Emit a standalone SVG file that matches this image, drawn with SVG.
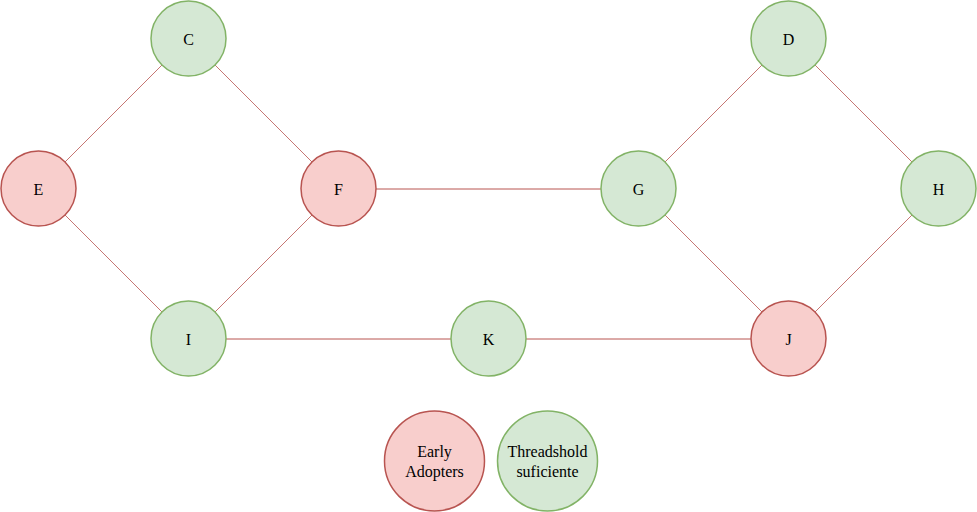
<svg xmlns="http://www.w3.org/2000/svg" width="977" height="512" viewBox="0 0 977 512">
<style>
.red{fill:#f8cecc;stroke:#b85450;stroke-width:1.5}
.green{fill:#d5e8d4;stroke:#82b366;stroke-width:1.5}
.edge{stroke:#b85450;stroke-width:1;fill:none}
.diag{stroke-opacity:0.8}
text{font-family:"Liberation Serif","Times New Roman",serif;font-size:16px;fill:#000;text-anchor:middle;dominant-baseline:central}
</style>
<rect width="977" height="512" fill="#fff"/>
<g id="connectors">
<line class="edge diag" x1="65" y1="162" x2="162" y2="65"/>
<line class="edge diag" x1="215" y1="65" x2="312" y2="162"/>
<line class="edge diag" x1="65" y1="215" x2="162" y2="312"/>
<line class="edge diag" x1="312" y1="215" x2="215" y2="312"/>
<line class="edge" x1="376" y1="189" x2="601" y2="189"/>
<line class="edge diag" x1="665" y1="162" x2="762" y2="65"/>
<line class="edge diag" x1="815" y1="65" x2="912" y2="162"/>
<line class="edge diag" x1="665" y1="215" x2="762" y2="312"/>
<line class="edge diag" x1="912" y1="215" x2="815" y2="312"/>
<line class="edge" x1="226" y1="339" x2="451" y2="339"/>
<line class="edge" x1="526" y1="339" x2="751" y2="339"/>
</g>
<g id="C"><circle class="green" cx="188.5" cy="38.5" r="37.5"/><text x="188.5" y="39">C</text></g>
<g id="D"><circle class="green" cx="788.5" cy="38.5" r="37.5"/><text x="788.5" y="39">D</text></g>
<g id="E"><circle class="red" cx="38.5" cy="188.5" r="37.5"/><text x="38.5" y="189">E</text></g>
<g id="F"><circle class="red" cx="338.5" cy="188.5" r="37.5"/><text x="338.5" y="189">F</text></g>
<g id="G"><circle class="green" cx="638.5" cy="188.5" r="37.5"/><text x="638.5" y="189">G</text></g>
<g id="H"><circle class="green" cx="938.5" cy="188.5" r="37.5"/><text x="938.5" y="189">H</text></g>
<g id="I"><circle class="green" cx="188.5" cy="338.5" r="37.5"/><text x="188.5" y="339">I</text></g>
<g id="K"><circle class="green" cx="488.5" cy="338.5" r="37.5"/><text x="488.5" y="339">K</text></g>
<g id="J"><circle class="red" cx="788.5" cy="338.5" r="37.5"/><text x="788.5" y="339">J</text></g>
<g id="legend-early"><circle class="red" cx="434.5" cy="461" r="50"/><text x="434.5" y="451">Early</text><text x="434.5" y="471.5">Adopters</text></g>
<g id="legend-threshold"><circle class="green" cx="547.5" cy="461" r="50"/><text x="547.5" y="451">Threadshold</text><text x="547.5" y="471.5">suficiente</text></g>
</svg>
